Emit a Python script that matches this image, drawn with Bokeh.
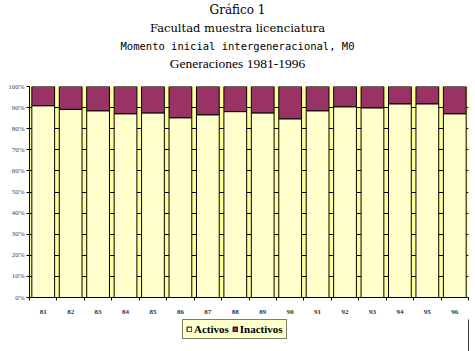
from bokeh.plotting import figure
from bokeh.models import (Range1d, FixedTicker, Legend, LegendItem,
                          ColumnDataSource, NumeralTickFormatter)
from bokeh.layouts import column
from bokeh.core.properties import value
from bokeh.embed import file_html
from bokeh.resources import INLINE

years = ["81", "82", "83", "84", "85", "86", "87", "88",
         "89", "90", "91", "92", "93", "94", "95", "96"]
activos = [0.909, 0.892, 0.885, 0.871, 0.875, 0.852, 0.866, 0.881,
           0.875, 0.847, 0.885, 0.904, 0.899, 0.918, 0.918, 0.871]
inactivos = [0.091, 0.108, 0.115, 0.129, 0.125, 0.148, 0.134, 0.119,
             0.125, 0.153, 0.115, 0.096, 0.101, 0.082, 0.082, 0.129]
titles = ["Gráfico 1", "Facultad muestra licenciatura",
          "Momento inicial intergeneracional, M0", "Generaciones 1981-1996"]
series = ["Activos", "Inactivos"]
colors = ["#FFFFCC", "#993366"]

W = 475
FL, FR = 29, 468   # frame edges shared by the column's aligned figures

# ---------- title block ----------
TH = 81
pt = figure(width=W, height=TH, output_backend="svg", toolbar_location=None,
            x_range=Range1d(FL, FR), y_range=Range1d(TH, 0),
            x_axis_type=None, y_axis_type=None, min_border=0)
pt.outline_line_color = None
pt.grid.grid_line_color = None
title_fonts = ["DejaVu Serif", "DejaVu Serif", "DejaVu Sans Mono", "Liberation Serif"]
title_sizes = ["12px", "11.5px", "10.5px", "13.5px"]
title_base = [9.5, 27.5, 45.5, 63]
for t, f, s, yb in zip(titles, title_fonts, title_sizes, title_base):
    pt.text(x=[237], y=[yb], text=[t], text_font=value(f), text_font_size=value(s),
            text_align="center", text_baseline="alphabetic", text_color="black")

# ---------- chart ----------
xs = list(range(1, len(years) + 1))
src = ColumnDataSource(dict(x=xs, Activos=activos, Inactivos=inactivos))

p = figure(width=W, height=238, output_backend="svg", toolbar_location=None,
           x_range=Range1d(0.5, len(years) + 0.5), y_range=Range1d(0, 1),
           min_border_left=FL, min_border_right=W - FR, min_border_top=5,
           min_border_bottom=22)
p.background_fill_color = "#FFFF99"
p.border_fill_color = "white"
p.outline_line_color = None

rs = p.vbar_stack(series, x="x", width=0.83, source=src, color=colors,
                  line_color="black", line_width=1)

p.xaxis.ticker = FixedTicker(ticks=xs, minor_ticks=[x - 0.5 for x in xs] + [len(xs) + 0.5])
p.xaxis.major_label_overrides = {x: y for x, y in zip(xs, years)}
p.xaxis.major_tick_line_color = None
p.xaxis.minor_tick_line_color = "black"
p.xaxis.minor_tick_out = 3
p.xaxis.minor_tick_in = 0
p.xaxis.major_label_text_font = "Liberation Serif"
p.xaxis.major_label_text_font_size = "7px"
p.xaxis.major_label_text_font_style = "bold"
p.xaxis.major_label_text_color = "#333333"
p.xaxis.major_label_standoff = 6
p.xaxis.axis_line_color = "black"

p.yaxis.ticker = FixedTicker(ticks=[i / 10 for i in range(11)], minor_ticks=[])
p.yaxis.formatter = NumeralTickFormatter(format="0%")
p.yaxis.major_tick_out = 3
p.yaxis.major_tick_in = 0
p.yaxis.major_tick_line_color = "black"
p.yaxis.major_label_text_font = "Liberation Serif"
p.yaxis.major_label_text_font_size = "7px"
p.yaxis.major_label_text_color = "#444444"
p.yaxis.major_label_standoff = 2
p.yaxis.axis_line_color = "black"

p.xgrid.grid_line_color = None
p.ygrid.grid_line_color = "black"
p.ygrid.grid_line_alpha = 1.0
p.ygrid.ticker = FixedTicker(ticks=[i / 10 for i in range(11)])

# ---------- legend block ----------
LH = 351 - TH - 238
pl = figure(width=W, height=LH, output_backend="svg", toolbar_location=None,
            x_range=Range1d(0, 1), y_range=Range1d(0, 1),
            x_axis_type=None, y_axis_type=None, min_border=0)
pl.outline_line_color = None
pl.grid.grid_line_color = None
# off-range bars that only feed the legend swatches
dummies = [pl.vbar(x=[5], top=[1], width=0.1, fill_color=c, line_color="black")
           for c in colors]
legend = Legend(items=[LegendItem(label=s, renderers=[r]) for s, r in zip(series, dummies)],
                location=(182 - FL, LH - 19.5), orientation="horizontal",
                background_fill_color="#FFFFCC", background_fill_alpha=1,
                border_line_color="black", border_line_width=1,
                label_text_font="Liberation Serif", label_text_font_size="11px",
                label_text_font_style="bold", label_text_color="black",
                glyph_width=6, glyph_height=6,
                padding=3, spacing=3, margin=0, label_standoff=2,
                label_height=10, label_width=10)
pl.add_layout(legend, "center")

layout = column(pt, p, pl, spacing=0)
open("out.html", "w").write(file_html(layout, INLINE))
